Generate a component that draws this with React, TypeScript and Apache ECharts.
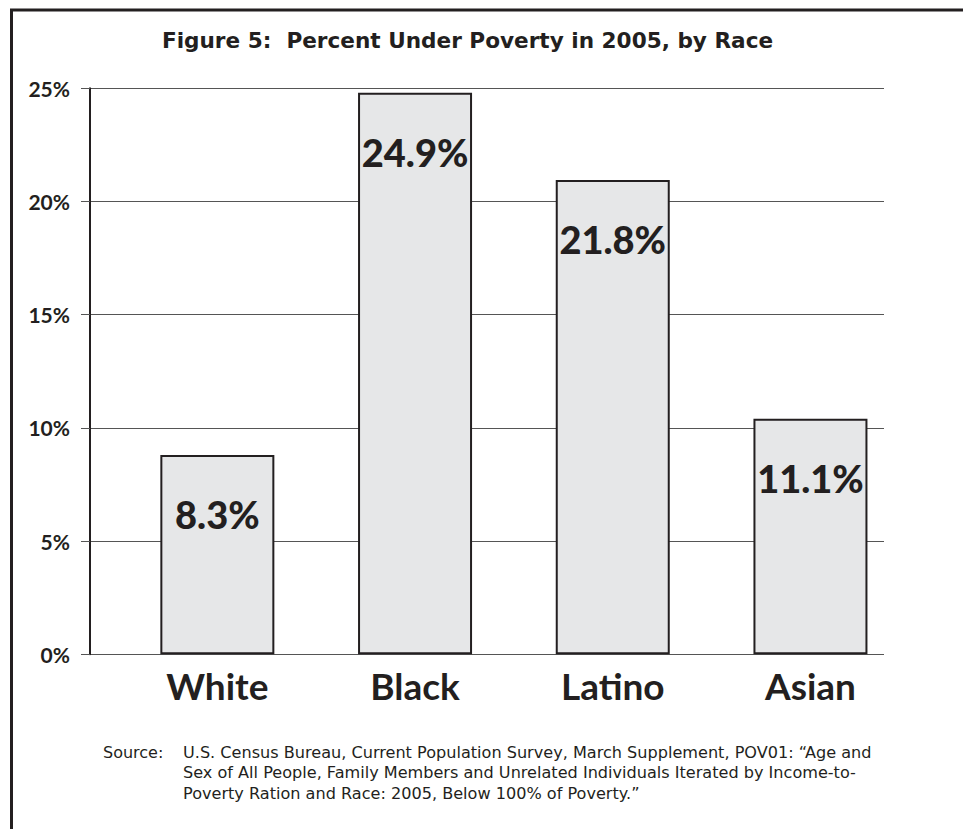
import React, { useEffect, useRef } from "react";
import * as echarts from "echarts";

const categories = ["White", "Black", "Latino", "Asian"];
// bar heights as drawn in the picture (percent)
const barHeights = [8.8, 24.8, 20.95, 10.4];
// printed value labels
const valueLabels = ["8.3%", "24.9%", "21.8%", "11.1%"];
const yMin = 0;
const yMax = 25;
const yInterval = 5;
const titleText = "Figure 5:  Percent Under Poverty in 2005, by Race";
const sourceLabel = "Source:";
const sourceLines = [
  "U.S. Census Bureau, Current Population Survey, March Supplement, POV01: \u201cAge and",
  "Sex of All People, Family Members and Unrelated Individuals Iterated by Income-to-",
  "Poverty Ration and Race: 2005, Below 100% of Poverty.\u201d",
];

const INK = "#231f20";
const FONT = "Lato";
const FONT2 = "DejaVu Sans";

export default function App() {
  const ref = useRef<HTMLDivElement>(null);
  useEffect(() => {
    if (!ref.current) return;
    const chart = echarts.init(ref.current, null, { renderer: "svg" });
    const gridTop = 88.3;
    const gridBottom = 829 - 654.3;
    const option: any = {
      animation: false,
      backgroundColor: "#ffffff",
      textStyle: { fontFamily: FONT },
      grid: [
        { left: 90, right: 79, top: gridTop, bottom: gridBottom },
        { left: 118.5, right: 53.7, top: gridTop, bottom: gridBottom },
      ],
      xAxis: [
        { gridIndex: 0, type: "value", min: 0, max: 1, show: false },
        {
          gridIndex: 1,
          type: "category",
          data: categories,
          axisLine: { show: false },
          axisTick: { show: false },
          splitLine: { show: false },
          axisLabel: {
            margin: 13,
            fontFamily: FONT,
            fontSize: 37,
            fontWeight: "bold",
            color: INK,
            lineHeight: 36,
          },
        },
      ],
      yAxis: [
        {
          gridIndex: 0,
          type: "value",
          min: yMin,
          max: yMax,
          interval: yInterval,
          axisLine: { show: true, lineStyle: { color: INK, width: 2 } },
          axisTick: { show: true, length: 9, inside: false, lineStyle: { color: "#555", width: 1 } },
          splitLine: { show: true, lineStyle: { color: "#555", width: 1 } },
          axisLabel: {
            formatter: "{value}%",
            margin: 20,
            fontFamily: FONT,
            fontSize: 21,
            fontWeight: "bold",
            color: INK,
          },
          z: 1,
        },
        { gridIndex: 1, type: "value", min: yMin, max: yMax, interval: yInterval, show: false },
      ],
      series: [
        {
          type: "bar",
          xAxisIndex: 1,
          yAxisIndex: 1,
          data: barHeights,
          barWidth: 114,
          z: 3,
          itemStyle: { color: "#e6e7e8", borderColor: INK, borderWidth: 2 },
          label: {
            show: true,
            position: ["50%", 59],
            align: "center",
            verticalAlign: "middle",
            formatter: (p: any) => valueLabels[p.dataIndex],
            fontFamily: FONT,
            fontSize: 38,
            fontWeight: 900,
            color: INK,
          },
        },
      ],
      graphic: [
        {
          type: "polyline",
          shape: { points: [[11.5, 829], [11.5, 10], [963, 10]] },
          style: { stroke: INK, lineWidth: 3, fill: "none" },
          silent: true,
        },
        {
          type: "text",
          x: 467.5,
          y: 40,
          style: {
            text: titleText,
            fontFamily: FONT2,
            fontSize: 21.6,
            fontWeight: "bold",
            fill: INK,
            textAlign: "center",
            textVerticalAlign: "middle",
          },
        },
        {
          type: "text",
          x: 103,
          y: 752,
          style: {
            text: sourceLabel,
            fontFamily: FONT2,
            fontSize: 16,
            fill: INK,
            textAlign: "left",
            textVerticalAlign: "middle",
          },
        },
        ...sourceLines.map((t, i) => ({
          type: "text",
          x: 183,
          y: 752 + i * 20.5,
          style: {
            text: t,
            fontFamily: FONT2,
            fontSize: 16.1,
            fill: INK,
            textAlign: "left",
            textVerticalAlign: "middle",
          },
        })),
      ],
    };
    chart.setOption(option);
    return () => chart.dispose();
  }, []);
  return (
    <div
      ref={ref}
      style={{ position: "fixed", left: 0, top: 0, width: 963, height: 829, background: "#fff" }}
    />
  );
}
